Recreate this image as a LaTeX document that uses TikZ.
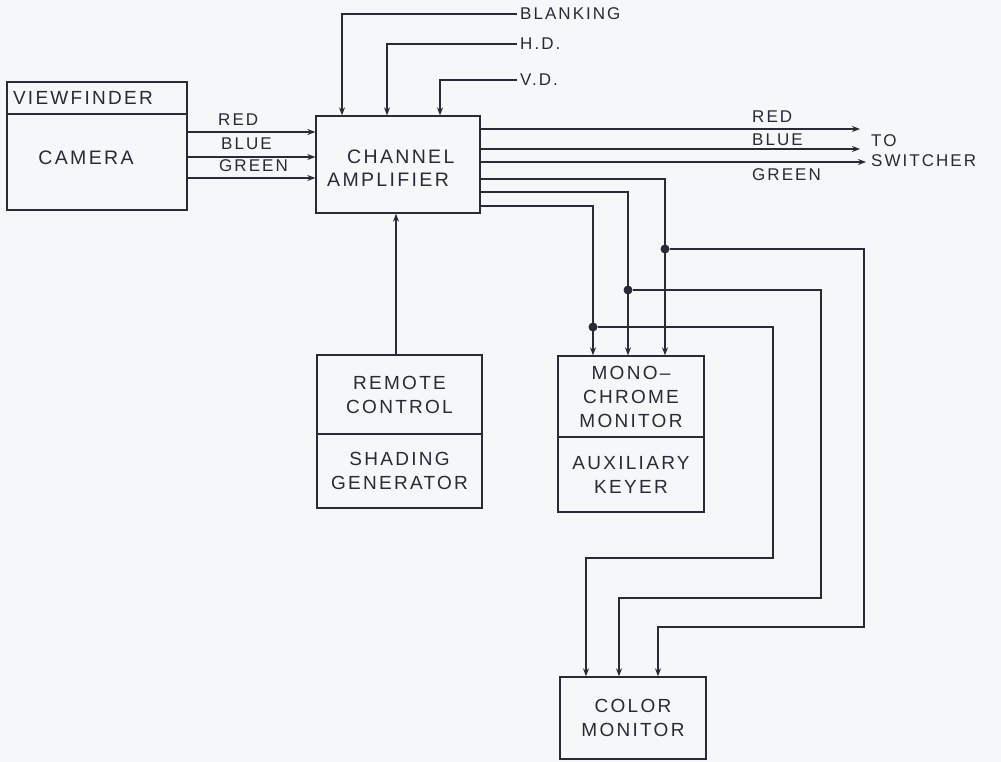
\documentclass[tikz,border=0pt]{standalone}
\usepackage{fontspec}
\setmainfont{Liberation Sans}[LetterSpace=12]
\usetikzlibrary{arrows.meta}
\definecolor{ink}{RGB}{40,42,54}
\definecolor{paper}{RGB}{246,247,249}
\begin{document}
\begin{tikzpicture}[x=1pt,y=-1pt,
  box/.style={draw=ink, line width=1.3pt, inner sep=0pt, align=center, text=ink,
              font=\fontsize{19}{24}\selectfont},
  lbl/.style={inner sep=0pt, text=ink, font=\fontsize{19.5}{23}\selectfont, align=left},
  sml/.style={inner sep=0pt, text=ink, font=\fontsize{17}{20}\selectfont, anchor=west},
  wire/.style={draw=ink, line width=1.3pt},
  arr/.style={wire, -{Stealth[length=8pt,width=6pt]}},
  dot/.style={circle, fill=ink, inner sep=0pt, minimum size=9pt}]
\fill[paper] (0,0) rectangle (1001,762);
\useasboundingbox (0,0) rectangle (1001,762);

% boxes
\node[box, minimum width=180, minimum height=32, text width=168, align=left] (vf) at (97,98) {VIEWFINDER};
\node[box, minimum width=180, minimum height=96] (cam) at (97,162) {};
\node[lbl] (camt) at (86,158) {CAMERA};
\node[box, minimum width=164, minimum height=97] (amp) at (398,164.5) {};
\node[lbl, anchor=west] (ampt) at (327,168) {\hspace*{20pt}CHANNEL\\AMPLIFIER};
\node[box, minimum width=165, minimum height=79] (rc) at (399.5,394.5) {REMOTE\\CONTROL};
\node[box, minimum width=165, minimum height=74] (sg) at (399.5,471) {SHADING\\GENERATOR};
\node[box, minimum width=146, minimum height=81] (mono) at (631,396.5) {MONO--\\CHROME\\MONITOR};
\node[box, minimum width=146, minimum height=75] (aux) at (631,474.5) {AUXILIARY\\KEYER};
\node[box, minimum width=146, minimum height=82] (cm) at (633,718) {COLOR\\MONITOR};

% camera outputs
\node[sml] (lr) at (218,120) {RED};
\node[sml] (lb) at (221,144) {BLUE};
\node[sml] (lg) at (219,166) {GREEN};
\draw[arr] (cam.east |- 0,132) -- (amp.west |- 0,132);
\draw[arr] (cam.east |- 0,157) -- (amp.west |- 0,157);
\draw[arr] (cam.east |- 0,178) -- (amp.west |- 0,178);

% sync inputs
\node[sml] (bl) at (520,14) {BLANKING};
\node[sml] (hd) at (520,44) {H.D.};
\node[sml] (vd) at (520,80) {V.D.};
\draw[arr] ([xshift=-3pt]bl.west) -| (amp.north -| 342,0);
\draw[arr] ([xshift=-3pt]hd.west) -| (amp.north -| 387,0);
\draw[arr] ([xshift=-3pt]vd.west) -| (amp.north -| 440,0);

% remote control
\draw[arr] (rc.north -| 396,0) -- (amp.south -| 396,0);

% outputs to switcher
\coordinate (o1) at (860,129);
\coordinate (o2) at (860,149);
\coordinate (o3) at (866,162);
\draw[arr] (amp.east |- o1) -- (o1);
\draw[arr] (amp.east |- o2) -- (o2);
\draw[arr] (amp.east |- o3) -- (o3);
\node[sml] (rr) at (752,117) {RED};
\node[sml] (rb) at (752,140) {BLUE};
\node[sml] (rg) at (752,175) {GREEN};
\node[sml] (to) at (871,141) {TO};
\node[sml] (sw) at (871,161) {SWITCHER};

% to monochrome monitor
\draw[arr] (amp.east |- 0,179) -| (mono.north -| 665,0);
\draw[arr] (amp.east |- 0,192) -| (mono.north -| 628,0);
\draw[arr] (amp.east |- 0,206) -| (mono.north -| 593,0);
\node[dot] (j1) at (665,249) {};
\node[dot] (j2) at (628,290) {};
\node[dot] (j3) at (593,327) {};

% to color monitor
\draw[arr] (j1) -| (864,627) -| (cm.north -| 658,0);
\draw[arr] (j2) -| (821,598) -| (cm.north -| 619,0);
\draw[arr] (j3) -| (773,558) -| (cm.north -| 586,0);
\end{tikzpicture}
\end{document}
